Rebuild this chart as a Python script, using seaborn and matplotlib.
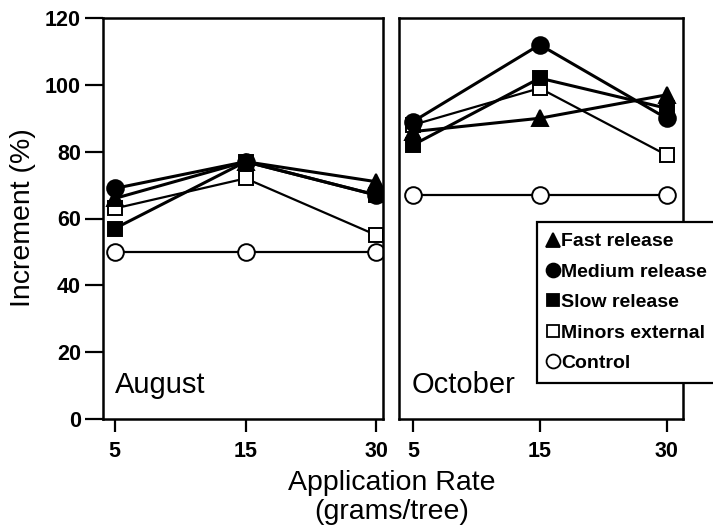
import matplotlib
matplotlib.use("Agg")
import matplotlib.pyplot as plt
from matplotlib.lines import Line2D
import seaborn as sns
import pandas as pd

rates = ["5", "15", "30"]
series = ["Fast release", "Medium release", "Slow release", "Minors external", "Control"]
august_fast = [66, 77, 71]
august_medium = [69, 77, 67]
august_slow = [57, 77, 67]
august_minors = [63, 72, 55]
august_control = [50, 50, 50]
october_fast = [86, 90, 97]
october_medium = [89, 112, 90]
october_slow = [82, 102, 93]
october_minors = [88, 99, 79]
october_control = [67, 67, 67]
panels = ["August", "October"]
yticks = [0, 20, 40, 60, 80, 100, 120]

data = {
    "August": [august_fast, august_medium, august_slow, august_minors, august_control],
    "October": [october_fast, october_medium, october_slow, october_minors, october_control],
}
rows = []
for p in panels:
    for s, vals in zip(series, data[p]):
        for r, v in zip(rates, vals):
            rows.append({"panel": p, "series": s, "rate": r, "value": v})
df = pd.DataFrame(rows)

sns.set_theme(style="ticks")
plt.rcParams["font.family"] = ["Liberation Sans", "DejaVu Sans"]
for k in ["text.color", "axes.labelcolor", "xtick.color", "ytick.color", "axes.edgecolor"]:
    plt.rcParams[k] = "black"

styles = {
    "Fast release": dict(marker="^", mfc="black", ms=12, lw=2.2),
    "Medium release": dict(marker="o", mfc="black", ms=12, lw=2.2),
    "Slow release": dict(marker="s", mfc="black", ms=10.5, lw=2.2),
    "Minors external": dict(marker="s", mfc="white", ms=10.5, lw=1.6),
    "Control": dict(marker="o", mfc="white", ms=12, lw=1.6),
}
draw_order = ["Control", "Minors external", "Slow release", "Fast release", "Medium release"]

fig = plt.figure(figsize=(7.13, 5.31), dpi=100)
ax1 = fig.add_axes([103 / 713, 1 - 419 / 531, 280 / 713, 401 / 531])
ax2 = fig.add_axes([399 / 713, 1 - 419 / 531, 284 / 713, 401 / 531])

for ax, p in zip([ax1, ax2], panels):
    sub = df[df.panel == p]
    for s in draw_order:
        st = styles[s]
        d = sub[sub.series == s]
        sns.lineplot(data=d, x="rate", y="value", ax=ax, color="black",
                     marker=st["marker"], markersize=st["ms"],
                     markerfacecolor=st["mfc"], markeredgecolor="black",
                     markeredgewidth=1.4, linewidth=st["lw"], sort=False,
                     legend=False)
    ax.set_ylim(0, 120)
    ax.set_xlabel("")
    ax.set_ylabel("")
    for sp in ax.spines.values():
        sp.set_linewidth(1.8)
        sp.set_color("black")
    ax.tick_params(axis="x", direction="out", length=9, width=1.6, pad=7,
                   labelsize=15.5, colors="black")
    ax.tick_params(axis="y", direction="out", length=13, width=1.6, pad=3,
                   labelsize=15.5, colors="black")
    for lab in ax.get_xticklabels() + ax.get_yticklabels():
        lab.set_fontweight("bold")
    ax.text(0.043, 0.065, p, transform=ax.transAxes, fontsize=21,
            ha="left", va="baseline")

ax1.set_xlim(-0.09, 2.05)
ax2.set_xlim(-0.11, 2.13)
ax1.set_yticks(yticks)
ax1.set_yticklabels([str(v) for v in yticks], fontweight="bold")
ax2.set_yticks([])
ax2.tick_params(axis="y", left=False, labelleft=False)

fig.text(23 / 713, 1 - 218 / 531, "Increment (%)", rotation=90,
         ha="center", va="center", fontsize=20.5)
fig.text(392 / 713, 1 - 483 / 531, "Application Rate", ha="center",
         va="center", fontsize=20.5)
fig.text(392 / 713, 1 - 512 / 531, "(grams/tree)", ha="center",
         va="center", fontsize=20.5)

handles = []
for s in series:
    st = styles[s]
    handles.append(Line2D([], [], linestyle="none", marker=st["marker"],
                          markersize=st["ms"] - 2, markerfacecolor=st["mfc"],
                          markeredgecolor="black", markeredgewidth=1.3))
leg = fig.legend(handles, series, loc="upper left",
                 bbox_to_anchor=(537 / 713, 1 - 222 / 531),
                 frameon=True, fancybox=False, edgecolor="black",
                 framealpha=1, handlelength=0.5, handletextpad=0.2,
                 borderpad=0.55, labelspacing=0.66, borderaxespad=0,
                 prop={"weight": "bold", "size": 14})
leg.get_frame().set_linewidth(1.6)

fig.savefig("out.png", dpi=100)
